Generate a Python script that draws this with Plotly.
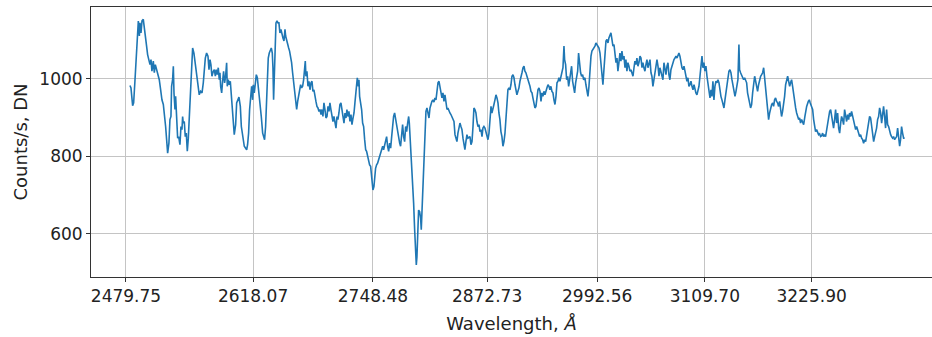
import plotly.graph_objects as go

# ---- data ----
wl_a = [2484.1, 2485.2, 2487.0, 2488.1, 2489.5, 2490.6, 2491.4, 2492.4, 2493.2, 2494.3,
        2495.0, 2496.1, 2497.2, 2498.6, 2499.7, 2500.8, 2502.2, 2503.3, 2504.4, 2505.9,
        2507.0, 2508.0, 2509.5, 2510.6, 2511.7, 2513.1, 2514.2, 2516.0, 2517.5, 2518.9,
        2520.4, 2521.5, 2522.9, 2524.0, 2525.1, 2526.5, 2527.6, 2528.7, 2529.4, 2530.5,
        2531.3, 2532.0, 2533.1, 2533.8, 2534.9, 2536.0, 2537.1, 2538.5, 2539.6, 2540.7,
        2541.4, 2542.1, 2543.2, 2544.3, 2545.4, 2546.5, 2547.6, 2548.7, 2550.1, 2551.2,
        2552.3, 2553.7, 2555.2, 2556.7, 2558.1, 2559.5, 2561.0, 2562.5, 2563.9, 2565.0,
        2566.1, 2567.5, 2569.0, 2570.1, 2571.2, 2572.2, 2573.3, 2574.8, 2575.9, 2577.0,
        2578.0, 2579.1, 2580.2, 2581.3, 2582.0, 2582.8, 2583.9, 2584.9, 2586.0, 2587.1,
        2588.2, 2589.3, 2590.0, 2591.1, 2592.2, 2593.3, 2594.4, 2595.5, 2596.5, 2597.6,
        2599.1, 2600.2]
counts_a = [983, 977, 931, 938, 994, 1050, 1076, 1128, 1150, 1111,
            1145, 1119, 1150, 1154, 1128, 1102, 1085, 1063, 1050, 1037,
            1050, 1020, 1046, 1016, 1037, 1024, 1011, 998, 972, 946,
            934, 912, 877, 843, 808, 834, 895, 903, 981, 998,
            1033, 964, 921, 955, 886, 847, 851, 830, 877, 869,
            903, 886, 890, 851, 860, 813, 847, 895, 964, 1033,
            1080, 1067, 1042, 1007, 981, 959, 968, 964, 990, 1029,
            1054, 1067, 1059, 1024, 1050, 1037, 1007, 1020, 1024, 1007,
            1024, 1011, 1029, 998, 1016, 981, 964, 994, 1020, 990,
            1007, 1042, 981, 998, 985, 994, 959, 938, 895, 856,
            882, 938]

wl_b = [2602.7, 2604.2, 2605.3, 2606.3, 2607.4, 2608.5, 2610.0, 2611.1, 2612.1, 2613.2,
        2614.3, 2615.4, 2616.5, 2617.6, 2618.3, 2619.4, 2620.5, 2621.6, 2622.7, 2623.8,
        2624.8, 2625.9, 2627.0, 2628.5, 2629.6, 2630.6, 2631.7, 2632.8, 2633.9, 2634.6,
        2635.7, 2636.8, 2637.9, 2639.0, 2639.7, 2640.4, 2641.2, 2641.9, 2643.0, 2644.1,
        2645.2, 2646.2, 2647.3, 2648.4, 2649.5, 2650.6, 2651.7, 2652.8, 2653.5, 2654.6,
        2655.7, 2656.8, 2657.8, 2658.9, 2660.0, 2661.1, 2662.2, 2663.3, 2664.4, 2665.5,
        2666.6, 2667.6, 2668.7, 2669.8, 2670.9, 2672.0, 2673.1, 2674.2, 2674.9, 2675.6,
        2676.7, 2677.8, 2678.9, 2680.0, 2681.1, 2682.2, 2683.2, 2684.3, 2685.4, 2686.5,
        2687.6, 2688.7, 2689.8, 2690.9, 2692.0, 2693.0, 2694.1, 2695.2, 2696.3, 2697.4,
        2698.5, 2699.6, 2700.7, 2701.7, 2702.8, 2703.9, 2705.0, 2706.1, 2707.2, 2708.3,
        2709.4, 2710.4, 2711.5, 2712.6, 2713.7, 2714.8, 2715.9, 2717.0, 2718.1, 2719.2,
        2720.2, 2721.3, 2722.4, 2723.5, 2724.6, 2725.7, 2726.8]
counts_b = [953, 929, 877, 856, 834, 826, 821, 817, 830, 860,
            921, 951, 981, 946, 985, 964, 990, 1011, 1003, 981,
            955, 929, 903, 860, 851, 843, 877, 938, 1007, 1054,
            1067, 1076, 1080, 1067, 1029, 946, 1007, 1102, 1145, 1150,
            1145, 1145, 1119, 1128, 1111, 1106, 1098, 1128, 1111, 1098,
            1089, 1080, 1072, 1059, 1042, 1016, 990, 964, 938, 921,
            942, 959, 972, 985, 977, 981, 998, 1037, 1046, 1007,
            1020, 981, 994, 972, 990, 994, 968, 972, 951, 942,
            929, 925, 916, 921, 908, 921, 903, 938, 921, 899,
            903, 929, 916, 938, 921, 899, 890, 903, 886, 873,
            903, 895, 912, 934, 938, 921, 903, 886, 912, 899,
            921, 903, 916, 890, 908, 882, 899]

wl_c = [2727.9, 2728.9, 2730.0, 2731.5, 2732.6, 2733.3, 2734.0, 2735.1, 2736.2, 2737.3,
        2738.4, 2739.5, 2740.6, 2741.6, 2742.7, 2743.8, 2744.9, 2746.0, 2746.7, 2747.4,
        2748.5, 2749.6, 2750.4, 2751.4, 2752.5, 2753.6, 2754.7, 2755.8, 2756.9, 2758.0,
        2759.1, 2760.1, 2761.2, 2762.3, 2763.4, 2764.5, 2765.6, 2766.7, 2767.8, 2768.9,
        2769.9, 2771.0, 2772.1, 2773.2, 2774.3, 2775.4, 2776.5, 2777.6, 2778.6, 2779.7,
        2780.8, 2781.9, 2783.0, 2784.1, 2785.2, 2786.3, 2787.4, 2788.1, 2788.8, 2789.9,
        2790.6, 2791.7, 2792.8, 2793.9, 2795.0, 2795.7, 2796.4, 2797.1, 2798.2, 2799.3,
        2800.4, 2801.1, 2801.9, 2803.0, 2804.0, 2805.1, 2806.2, 2807.3, 2808.4, 2809.5,
        2810.6, 2811.6, 2812.7, 2813.8, 2814.9, 2816.0, 2817.1, 2818.2, 2819.3, 2820.4,
        2821.4, 2822.5, 2823.6, 2824.7, 2825.8, 2826.9, 2828.0, 2829.1, 2830.1, 2831.2,
        2832.3, 2833.4, 2834.5, 2835.6, 2836.7, 2837.8, 2838.9, 2839.9, 2841.0, 2842.1,
        2843.2, 2844.3, 2845.4, 2846.5, 2847.6, 2848.6, 2849.7, 2850.8, 2851.9]
counts_c = [912, 938, 964, 1003, 981, 998, 955, 938, 921, 886,
            877, 843, 817, 813, 800, 787, 778, 774, 752, 730,
            713, 722, 756, 769, 778, 782, 791, 800, 808, 813,
            826, 817, 830, 838, 851, 826, 813, 834, 821, 851,
            877, 903, 912, 895, 877, 856, 843, 834, 826, 860,
            882, 851, 838, 877, 864, 886, 903, 886, 856, 834,
            800, 748, 679, 610, 549, 519, 540, 592, 661, 657,
            640, 610, 661, 730, 817, 886, 916, 925, 912, 899,
            925, 934, 942, 946, 940, 951, 946, 968, 990, 994,
            981, 972, 951, 964, 942, 959, 929, 921, 925, 916,
            912, 908, 903, 899, 890, 856, 843, 838, 860, 873,
            886, 877, 869, 847, 830, 817, 838, 856, 847]

wl_d = [2854.1, 2855.2, 2856.3, 2857.4, 2858.4, 2859.5, 2860.6, 2861.7, 2862.8, 2863.9,
        2865.0, 2866.1, 2867.2, 2868.2, 2869.3, 2870.4, 2871.5, 2872.6, 2873.7, 2874.8,
        2875.9, 2877.0, 2878.0, 2879.1, 2880.2, 2881.3, 2882.4, 2883.5, 2884.6, 2885.6,
        2886.7, 2887.8, 2888.9, 2890.0, 2891.1, 2892.2, 2893.3, 2894.4, 2895.4, 2896.5,
        2897.6, 2898.7, 2899.8, 2900.9, 2902.0, 2903.1, 2904.1, 2905.2, 2906.3, 2907.4,
        2908.5, 2909.6, 2910.7, 2911.8, 2912.9, 2913.9, 2915.0, 2916.1, 2917.2, 2918.3,
        2919.4, 2920.5, 2921.6, 2922.6, 2923.7, 2924.8, 2925.9, 2927.0, 2928.1, 2929.2,
        2930.3, 2931.4, 2932.4, 2933.5, 2934.6, 2935.7, 2936.8, 2937.9, 2939.0, 2940.1,
        2941.1, 2942.2, 2943.3, 2944.4, 2945.5, 2946.6, 2947.7, 2948.8, 2949.9, 2950.9,
        2952.0, 2953.1, 2954.2, 2955.3, 2956.4, 2957.1, 2958.2, 2959.3, 2960.4, 2961.5,
        2962.6, 2963.6, 2964.7, 2965.8, 2966.9, 2968.0, 2969.1, 2970.2, 2971.3, 2972.3,
        2973.4, 2974.5, 2975.6, 2976.7, 2977.8]
counts_d = [851, 830, 838, 877, 925, 921, 912, 890, 877, 882,
            864, 869, 851, 873, 877, 873, 864, 856, 843, 860,
            895, 929, 912, 929, 934, 946, 959, 951, 938, 912,
            895, 864, 851, 826, 838, 860, 895, 929, 972, 977,
            972, 985, 1007, 1011, 1003, 985, 972, 959, 968, 977,
            994, 1011, 1016, 1029, 1033, 1020, 1016, 1007, 998, 994,
            981, 968, 964, 951, 934, 925, 929, 955, 972, 977,
            968, 942, 964, 955, 968, 959, 972, 977, 985, 981,
            972, 981, 968, 964, 946, 934, 955, 990, 994, 1003,
            994, 1007, 1020, 1029, 1085, 1050, 1037, 998, 1007, 981,
            998, 1011, 1033, 994, 972, 964, 990, 1003, 1020, 1067,
            1037, 1016, 1007, 1011, 998]

wl_e = [2979.2, 2980.3, 2981.4, 2982.5, 2983.6, 2984.7, 2985.8, 2986.8, 2987.9, 2989.0,
        2990.1, 2991.2, 2992.3, 2993.4, 2994.5, 2995.6, 2996.6, 2997.7, 2998.8, 2999.9,
        3001.0, 3002.1, 3003.2, 3004.3, 3005.3, 3006.4, 3007.5, 3008.6, 3009.7, 3010.8,
        3011.9, 3013.0, 3014.1, 3015.1, 3016.2, 3017.3, 3018.4, 3019.5, 3020.6, 3021.7,
        3022.8, 3023.8, 3024.9, 3026.0, 3027.1, 3028.2, 3029.3, 3030.4, 3031.5, 3032.6,
        3033.6, 3034.7, 3035.8, 3036.9, 3038.0, 3039.1, 3040.2, 3041.3, 3042.3, 3043.4,
        3044.5, 3045.6, 3046.7, 3047.8, 3048.9, 3050.0, 3051.1, 3052.1, 3053.2, 3054.3,
        3055.4, 3056.5, 3057.6, 3058.7, 3059.8, 3060.8, 3061.9, 3063.0, 3064.1, 3065.2,
        3066.3, 3067.4, 3068.5, 3069.6, 3070.6, 3071.7, 3072.8, 3073.9, 3075.0, 3076.1,
        3077.2, 3078.3, 3079.4, 3080.4, 3081.5, 3082.6, 3083.7, 3084.8, 3085.9, 3087.0,
        3088.1, 3089.1, 3090.2, 3091.3, 3092.4, 3093.5, 3094.6, 3095.7, 3096.8, 3097.9,
        3098.9, 3100.0, 3101.1]
counts_e = [1003, 985, 972, 955, 981, 1033, 1059, 1072, 1076, 1080,
            1085, 1093, 1089, 1085, 1080, 1067, 1042, 1007, 985, 1024,
            1067, 1098, 1102, 1093, 1106, 1115, 1119, 1102, 1085, 1089,
            1067, 1042, 1054, 1020, 1042, 1067, 1046, 1072, 1050, 1059,
            1029, 1050, 1020, 1042, 1033, 1020, 1024, 1011, 1007, 1029,
            1046, 1037, 1054, 1033, 1042, 1059, 1054, 1029, 1042, 1029,
            1020, 1037, 1050, 1029, 1037, 1050, 1016, 1007, 981, 998,
            1020, 1042, 1050, 1033, 1007, 1029, 1020, 1007, 998, 1042,
            1020, 1011, 1033, 1042, 1011, 998, 1024, 1033, 1046, 1050,
            1054, 1059, 1054, 1063, 1067, 1059, 1042, 1029, 1024, 1033,
            1020, 1007, 994, 1003, 981, 985, 994, 981, 972, 985,
            972, 964, 959]

wl_f = [3102.2, 3103.3, 3104.4, 3105.5, 3106.6, 3107.6, 3108.7, 3109.8, 3110.9, 3112.0,
        3113.1, 3114.2, 3115.3, 3116.4, 3117.4, 3118.5, 3119.6, 3120.7, 3121.8, 3122.9,
        3124.0, 3125.1, 3126.1, 3127.2, 3128.3, 3129.4, 3130.5, 3131.6, 3132.7, 3133.8,
        3134.9, 3135.9, 3137.0, 3138.1, 3139.2, 3140.3, 3141.4, 3142.5, 3143.6, 3144.6,
        3145.7, 3146.8, 3147.5, 3148.6, 3149.7, 3150.8, 3151.9, 3153.0, 3154.1, 3155.2,
        3156.2, 3157.3, 3158.4, 3159.5, 3160.6, 3161.7, 3162.8, 3163.9, 3165.0, 3166.0,
        3167.1, 3168.2, 3169.3, 3170.4, 3171.5, 3172.6, 3173.7, 3174.7, 3175.8, 3176.9,
        3178.0, 3179.1, 3180.2, 3181.3, 3182.4, 3183.5, 3184.5, 3185.6, 3186.7, 3187.8,
        3188.9, 3190.0, 3191.1, 3192.2, 3193.2, 3194.3, 3195.4, 3196.5, 3197.6, 3198.7,
        3199.8, 3200.9, 3202.0, 3203.0, 3204.1, 3205.2, 3206.3, 3207.4, 3208.5, 3209.6,
        3210.7, 3211.8, 3212.8, 3213.9, 3215.0, 3216.1, 3217.2]
counts_f = [968, 981, 1007, 1029, 1059, 1029, 1042, 1020, 1033, 1007,
            990, 977, 951, 972, 955, 994, 946, 981, 994, 990,
            998, 990, 968, 955, 946, 938, 925, 946, 968, 985,
            1007, 1020, 1024, 1016, 998, 985, 977, 955, 968, 981,
            998, 1089, 1024, 1016, 1011, 1007, 998, 1003, 994, 990,
            964, 946, 938, 925, 934, 964, 990, 1007, 994, 977,
            968, 985, 998, 1007, 1011, 1016, 1029, 1003, 981, 946,
            921, 895, 912, 925, 934, 938, 929, 946, 951, 942,
            938, 929, 942, 921, 903, 916, 934, 955, 985, 998,
            1007, 994, 981, 990, 998, 981, 959, 946, 925, 912,
            903, 895, 899, 886, 895, 886, 882]

wl_g = [3218.6, 3220.5, 3222.3, 3223.4, 3224.4, 3225.9, 3227.0, 3228.1, 3229.2, 3230.2,
        3231.3, 3232.4, 3233.5, 3234.6, 3235.7, 3236.8, 3237.9, 3238.9, 3240.0, 3241.1,
        3242.2, 3243.3, 3244.4, 3245.5, 3246.6, 3247.7, 3248.7, 3249.8, 3250.9, 3252.0,
        3253.1, 3254.2, 3255.3, 3256.4, 3257.5, 3258.5, 3259.6, 3260.7, 3261.8, 3262.9,
        3264.0, 3265.1, 3266.2, 3267.2, 3268.3, 3269.4, 3270.5, 3271.6, 3272.7, 3273.8,
        3274.9, 3275.9, 3277.0, 3278.1, 3279.2, 3280.3, 3281.4, 3282.5, 3283.6, 3284.7,
        3285.7, 3286.8, 3287.9, 3289.0, 3290.1, 3291.2, 3292.3, 3293.4, 3294.5, 3295.5,
        3296.6, 3297.7, 3298.8, 3299.9, 3301.0, 3302.1, 3303.2, 3304.2, 3305.3, 3306.4,
        3307.5, 3308.6, 3309.7, 3310.8, 3311.9, 3312.9, 3314.0, 3315.1, 3316.2, 3317.3,
        3318.4, 3319.5, 3320.6, 3321.7, 3322.7, 3323.8, 3324.9, 3326.0, 3327.1]
counts_g = [903, 929, 942, 946, 938, 929, 921, 895, 869, 864,
            869, 860, 856, 858, 851, 853, 860, 851, 856, 851,
            869, 886, 903, 916, 921, 899, 882, 873, 895, 921,
            886, 912, 873, 860, 886, 903, 895, 882, 921, 903,
            890, 908, 895, 912, 903, 916, 903, 895, 886, 869,
            877, 864, 860, 851, 856, 847, 843, 834, 843, 838,
            856, 877, 886, 903, 899, 873, 847, 838, 851, 860,
            873, 895, 903, 925, 912, 886, 903, 929, 903, 873,
            921, 882, 877, 864, 856, 851, 847, 851, 843, 847,
            851, 873, 847, 826, 843, 877, 860, 847, 847]

tick_vals = [2479.75, 2618.07, 2748.48, 2872.73, 2992.56, 3109.70, 3225.90]
tick_text = ["2479.75", "2618.07", "2748.48", "2872.73", "2992.56", "3109.70", "3225.90"]
y_ticks = [600, 800, 1000]

segments = [(wl_a, counts_a), (wl_b, counts_b), (wl_c, counts_c), (wl_d, counts_d),
            (wl_e, counts_e), (wl_f, counts_f), (wl_g, counts_g)]
wavelength, counts = [], []
for w, c in segments:
    assert len(w) == len(c), (len(w), len(c))
    wavelength += w
    counts += c

FONT = "DejaVu Sans"
fig = go.Figure()
fig.add_trace(go.Scatter(x=wavelength, y=counts, mode="lines",
                         line=dict(color="#1f77b4", width=1.6), showlegend=False))

axis_common = dict(showgrid=True, gridcolor="#c4c4c4", gridwidth=1,
                   showline=True, linecolor="#333333", linewidth=1, mirror=True,
                   ticks="outside", ticklen=4, tickwidth=1, tickcolor="#333333",
                   tickfont=dict(family=FONT, size=17, color="#222222"),
                   zeroline=False, automargin=False)

fig.update_layout(
    width=932, height=337,
    margin=dict(l=91, r=0, t=7, b=60),
    paper_bgcolor="white", plot_bgcolor="white",
    xaxis=dict(range=[2441.7, 3356.9], tickmode="array", tickvals=tick_vals, ticktext=tick_text,
               title=dict(text="Wavelength, <i>Å</i>", standoff=11,
                          font=dict(family=FONT, size=18, color="#222222")),
               **axis_common),
    yaxis=dict(range=[488, 1186], tickmode="array", tickvals=y_ticks,
               title=dict(text="Counts/s, DN", standoff=7,
                          font=dict(family=FONT, size=18, color="#222222")),
               **axis_common),
)

fig.write_html("out.html")
